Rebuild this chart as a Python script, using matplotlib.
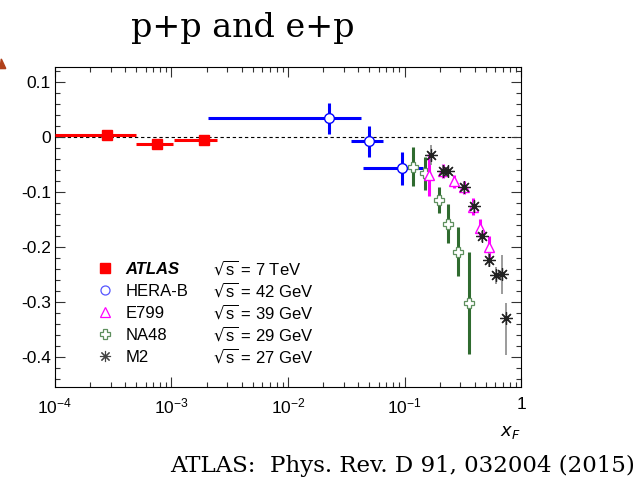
"""
Transverse polarization style plot: p+p and e+p measurements versus x_F.
Saves out.png
"""

import matplotlib.pyplot as plt
import numpy as np
from matplotlib.lines import Line2D
from matplotlib.patches import Polygon
from matplotlib.ticker import FixedLocator, FixedFormatter, LogLocator, MultipleLocator, NullFormatter

plt.rcParams["font.family"] = ["Liberation Sans", "DejaVu Sans"]
plt.rcParams["mathtext.default"] = "regular"
plt.rcParams["axes.unicode_minus"] = False

# ATLAS, sqrt(s) = 7 TeV
atlas_x = np.array([2.8e-4, 7.5e-4, 1.9e-3])
atlas_xlo = np.array([1.0e-4, 5.0e-4, 1.05e-3])
atlas_xhi = np.array([5.0e-4, 1.04e-3, 2.45e-3])
atlas_y = np.array([0.004, -0.013, -0.005])
atlas_yerr = np.array([0.005, 0.005, 0.005])

# HERA-B, 42 GeV
herab_x = np.array([0.0225, 0.050, 0.095])
herab_xlo = np.array([0.00207, 0.0345, 0.0443])
herab_xhi = np.array([0.0421, 0.0657, 0.145])
herab_y = np.array([0.034, -0.0085, -0.057])
herab_yerr = np.array([0.028, 0.029, 0.030])

# NA48, 29 GeV
na48_x = np.array([0.119, 0.150, 0.199, 0.238, 0.287, 0.356])
na48_y = np.array([-0.054, -0.066, -0.115, -0.158, -0.209, -0.302])
na48_yerr = np.array([0.036, 0.030, 0.023, 0.036, 0.045, 0.093])

# E799, 39 GeV
e799_x = np.array([0.163, 0.213, 0.266, 0.325, 0.390, 0.445, 0.535])
e799_y = np.array([-0.069, -0.062, -0.081, -0.092, -0.127, -0.166, -0.200])
e799_yerr = np.array([0.038, 0.012, 0.012, 0.012, 0.015, 0.016, 0.020])

# M2, 27 GeV
m2_x = np.array([0.168, 0.215, 0.238, 0.325, 0.395, 0.46, 0.535, 0.61, 0.682, 0.743])
m2_y = np.array([-0.033, -0.062, -0.063, -0.092, -0.126, -0.181, -0.224, -0.252, -0.250, -0.330])
m2_yerr_lo = np.array([0.018, 0.010, 0.010, 0.010, 0.010, 0.010, 0.012, 0.015, 0.035, 0.067])
m2_yerr_hi = np.array([0.018, 0.010, 0.010, 0.010, 0.010, 0.010, 0.012, 0.015, 0.035, 0.027])

legend_names = ["ATLAS", "HERA-B", "E799", "NA48", "M2"]
legend_energies = [r"$\sqrt{s}$ = 7 TeV", r"$\sqrt{s}$ = 42 GeV", r"$\sqrt{s}$ = 39 GeV",
                   r"$\sqrt{s}$ = 29 GeV", r"$\sqrt{s}$ = 27 GeV"]

xtick_vals = [1e-4, 1e-3, 1e-2, 1e-1, 1]
xtick_labels = ["$10^{-4}$", "$10^{-3}$", "$10^{-2}$", "$10^{-1}$", "1"]

RED = "#ff0000"
BLUE = "#0000ff"
MAG = "#ff00ff"
GREEN = "#2f6b2f"
GRAY = "#8a8a8a"
STAR = "#222222"


def main():
    fig = plt.figure(figsize=(6.41, 4.83), dpi=100)
    ax = fig.add_axes([0.0858, 0.1988, 0.727, 0.6625])

    ax.axhline(0, color="black", lw=0.8, ls=(0, (3, 2.5)), zorder=1)

    ax.errorbar(atlas_x, atlas_y, xerr=[atlas_x - atlas_xlo, atlas_xhi - atlas_x],
                yerr=atlas_yerr, fmt="s", color=RED, ms=7, elinewidth=2.2,
                capsize=0, zorder=3)
    ax.errorbar(herab_x, herab_y, xerr=[herab_x - herab_xlo, herab_xhi - herab_x],
                yerr=herab_yerr, fmt="o", color=BLUE, mfc="white", mec=BLUE, mew=1.0,
                ms=7, elinewidth=2.2, capsize=0, zorder=3)
    ax.errorbar(na48_x, na48_y, yerr=na48_yerr, fmt="P", color=GREEN, mfc="white",
                mec="#5d8f5d", mew=0.9, ms=7.5, elinewidth=2.2, capsize=0, zorder=4)
    ax.errorbar(e799_x, e799_y, yerr=e799_yerr, fmt="^", color=MAG, mfc="white",
                mec=MAG, mew=1.0, ms=7.5, elinewidth=2.2, capsize=0, zorder=5)
    ax.errorbar(m2_x, m2_y, yerr=[m2_yerr_lo, m2_yerr_hi], fmt="none", ecolor=GRAY,
                elinewidth=1.2, capsize=0, zorder=6)
    ax.plot(m2_x, m2_y, ls="none", marker=(8, 2, 0), ms=9, mew=0.9, color=STAR, zorder=7)

    ax.set_xscale("log")
    ax.set_xlim(1e-4, 1)
    ax.set_ylim(-0.455, 0.127)

    ax.xaxis.set_major_locator(FixedLocator(xtick_vals))
    ax.xaxis.set_major_formatter(FixedFormatter(xtick_labels))
    ax.xaxis.set_minor_locator(LogLocator(base=10, subs=np.arange(2, 10)))
    ax.xaxis.set_minor_formatter(NullFormatter())
    ax.yaxis.set_major_locator(MultipleLocator(0.1))
    ax.yaxis.set_minor_locator(MultipleLocator(0.02))
    ax.yaxis.set_major_formatter(plt.FuncFormatter(lambda v, p: "0" if abs(v) < 1e-9 else f"{v:.1f}"))

    ax.tick_params(which="both", direction="in", top=True, right=True, color="#333333",
                   width=0.8, labelsize=12.5)
    ax.tick_params(which="major", length=7)
    ax.tick_params(which="minor", length=3.5)
    ax.tick_params(axis="x", pad=7)
    ax.tick_params(axis="y", pad=3)
    for sp in ax.spines.values():
        sp.set_linewidth(0.8)

    ax.text(1.0, -0.115, r"$\mathit{x}_{\mathit{F}}$", transform=ax.transAxes,
            ha="right", va="top", fontsize=13)

    handles = [
        Line2D([], [], ls="none", marker="s", color=RED, ms=6.5),
        Line2D([], [], ls="none", marker="o", mfc="none", mec="#5555ff", mew=0.9, ms=6.5),
        Line2D([], [], ls="none", marker="^", mfc="none", mec=MAG, mew=0.9, ms=7),
        Line2D([], [], ls="none", marker="P", mfc="none", mec="#5d8f5d", mew=0.9, ms=7.5),
        Line2D([], [], ls="none", marker=(8, 2, 0), color="#444444", mew=0.8, ms=8),
    ]
    leg = ax.legend(handles, legend_names, loc="upper left", bbox_to_anchor=(0.09, 0.39),
                    frameon=False, fontsize=12, handlelength=1.0, handletextpad=0.7,
                    labelspacing=0.42, borderpad=0, borderaxespad=0)
    leg.get_texts()[0].set_fontweight("bold")
    leg.get_texts()[0].set_fontstyle("italic")

    # put the sqrt(s) column on the same baselines as the legend labels
    fig.canvas.draw()
    inv = ax.transAxes.inverted()
    for t, lab in zip(leg.get_texts(), legend_energies):
        base = t.get_transform().transform(t.get_position())
        yax = inv.transform(base)[1]
        ax.text(0.339, yax, lab, transform=ax.transAxes, ha="left", va="baseline", fontsize=12)

    fig.text(0.378, 0.942, "p+p and e+p", ha="center", va="center",
             fontsize=24, family="DejaVu Serif")
    fig.text(0.99, 0.035, "ATLAS:  Phys. Rev. D 91, 032004 (2015)", ha="right", va="center",
             fontsize=16.5, family="DejaVu Serif")

    # edge of an arrow cut off at the slide border
    fig.add_artist(Polygon([[0.0, 0.858], [0.009, 0.858], [0.002, 0.878]],
                           closed=True, transform=fig.transFigure, color="#b0401a"))

    fig.savefig("out.png", dpi=100)
    plt.close(fig)


if __name__ == "__main__":
    main()
